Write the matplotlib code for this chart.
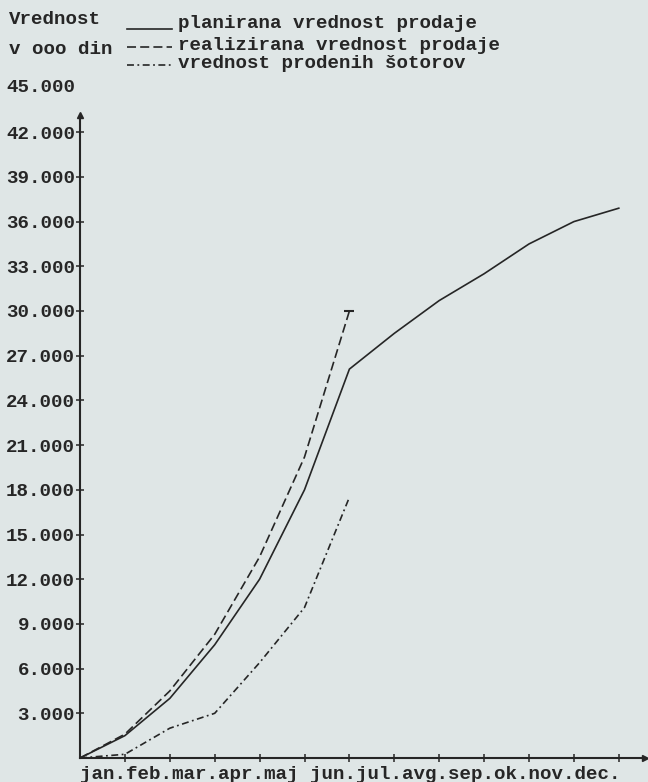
import numpy as np
import matplotlib
matplotlib.use("Agg")
import matplotlib.pyplot as plt
from matplotlib.lines import Line2D

# ---- data (values in 000 din) ----
months = ['jan', 'feb', 'mar', 'apr', 'maj', 'jun', 'jul', 'avg', 'sep', 'ok', 'nov', 'dec']
planned = [0, 1500, 4000, 7600, 12000, 18000, 26100, 28500, 30700, 32500, 34500, 36000, 36900]
realized = [0, 1600, 4500, 8300, 13500, 20200, 30000]
tents = [0, 250, 2000, 3000, 6400, 10100, 17500]
ytick_values = list(range(3000, 45001, 3000))
ytick_labels = [f"{v // 1000}.000" for v in ytick_values]
legend_labels = ["planirana vrednost prodaje",
                 "realizirana vrednost prodaje",
                 "vrednost prodenih šotorov"]
ylabel_lines = ["Vrednost", "v ooo din"]

plt.rcParams['lines.scale_dashes'] = False
BG = '#dfe6e6'
INK = '#262626'
FONT = dict(family=['Liberation Mono', 'DejaVu Sans Mono'], weight='bold', size=13.8)

W, H = 648, 782
fig = plt.figure(figsize=(W / 100, H / 100), dpi=100, facecolor=BG)

def fx(px):
    return px / W

def fy(py):
    return 1 - py / H

# axes: origin at (80, 758) px, x-axis arrow at 645, y-axis arrow at 115
ax = fig.add_axes([fx(80), fy(758), (645 - 80) / W, (758 - 115) / H])
ax.set_facecolor(BG)
px_per_month = 44.9
px_per_1000 = 14.9
ax.set_xlim(0, (645 - 80) / px_per_month)
ax.set_ylim(0, (758 - 115) / px_per_1000 * 1000)

for s in ['top', 'right']:
    ax.spines[s].set_visible(False)
for s in ['left', 'bottom']:
    ax.spines[s].set_color(INK)
    ax.spines[s].set_linewidth(1.5)

# arrow heads
ax.plot(1, 0, marker='>', ms=5, color=INK, transform=ax.get_yaxis_transform(), clip_on=False)
ax.plot(0, 1, marker='^', ms=5, color=INK, transform=ax.get_xaxis_transform(), clip_on=False)

# ticks
ax.set_xticks(np.arange(1, len(months) + 1))
ax.set_xticklabels([])
ax.tick_params(axis='x', direction='inout', length=6, width=1.1, color=INK)
ax.set_yticks(ytick_values[:-1])
ax.set_yticklabels(ytick_labels[:-1], fontdict=FONT, color=INK)
ax.tick_params(axis='y', direction='inout', length=6, width=1.1, color=INK, pad=0.5)
# top label without tick (above the axis arrow)
ax.text(-(5.0) / (645 - 80), ytick_values[-1], ytick_labels[-1], ha='right', va='center',
        transform=ax.get_yaxis_transform(), clip_on=False, color=INK, **FONT)

# month labels, typewriter style
month_text = ".".join(months[:5]) + " " + ".".join(months[5:]) + "."
ax.text(0, -0.012, month_text, ha='left', va='top', transform=ax.transAxes,
        clip_on=False, color=INK, **FONT)

lw = 1.2
dash_style = (0, (6.5, 3.0))
dashdot_style = (0, (5.0, 2.5, 1.3, 2.5))

ax.plot(np.arange(len(planned)), planned, color=INK, lw=lw, solid_joinstyle='miter')
ax.plot(np.arange(len(realized)), realized, color=INK, lw=lw, linestyle=dash_style)
ax.plot(np.arange(len(realized))[-1:], realized[-1:], marker='_', ms=7, mew=1.5, color=INK)
ax.plot(np.arange(len(tents)), tents, color=INK, lw=lw, linestyle=dashdot_style)

# header / legend
fig.text(fx(9), fy(19), ylabel_lines[0], ha='left', va='center', color=INK, **FONT)
fig.text(fx(9), fy(50), ylabel_lines[1], ha='left', va='center', color=INK, **FONT)

styles = ['-', dash_style, dashdot_style]
text_y = [24, 45, 63]
line_y = [29, 47, 65]
for lab, st, ty, ly in zip(legend_labels, styles, text_y, line_y):
    fig.add_artist(Line2D([fx(127), fx(172)], [fy(ly), fy(ly)], color=INK, lw=lw,
                          linestyle=st, transform=fig.transFigure))
    fig.text(fx(178), fy(ty), lab, ha='left', va='center', color=INK, **FONT)

fig.savefig('out.png', dpi=100, facecolor=BG)
